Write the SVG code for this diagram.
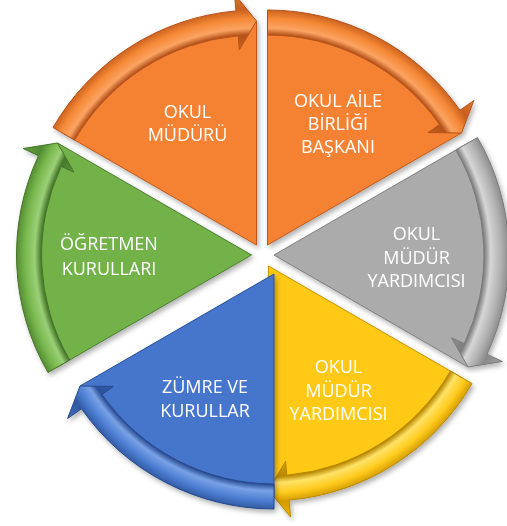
<svg xmlns="http://www.w3.org/2000/svg" width="507" height="526" viewBox="0 0 507 526">
<defs>
<filter id="sh" x="-10%" y="-10%" width="130%" height="130%">
<feDropShadow dx="2" dy="3" stdDeviation="2.5" flood-color="#000" flood-opacity="0.3"/>
</filter>
<radialGradient id="g1" gradientUnits="userSpaceOnUse" cx="256.5" cy="245" r="252">
<stop offset="0.78" stop-color="#C9601F"/><stop offset="0.835" stop-color="#B5521A"/><stop offset="0.86" stop-color="#FBA463"/><stop offset="0.9" stop-color="#F58835"/><stop offset="0.935" stop-color="#C9601F"/><stop offset="1" stop-color="#E0722A"/>
</radialGradient>
<radialGradient id="g2" gradientUnits="userSpaceOnUse" cx="267.5" cy="245" r="252">
<stop offset="0.78" stop-color="#C9601F"/><stop offset="0.835" stop-color="#B5521A"/><stop offset="0.86" stop-color="#FBA463"/><stop offset="0.9" stop-color="#F58835"/><stop offset="0.935" stop-color="#C9601F"/><stop offset="1" stop-color="#E0722A"/>
</radialGradient>
<radialGradient id="g3" gradientUnits="userSpaceOnUse" cx="274" cy="255" r="252">
<stop offset="0.78" stop-color="#8E8E8E"/><stop offset="0.835" stop-color="#7E7E7E"/><stop offset="0.86" stop-color="#D6D6D6"/><stop offset="0.9" stop-color="#B2B2B2"/><stop offset="0.935" stop-color="#8A8A8A"/><stop offset="1" stop-color="#A0A0A0"/>
</radialGradient>
<radialGradient id="g4" gradientUnits="userSpaceOnUse" cx="268.5" cy="266" r="252">
<stop offset="0.78" stop-color="#D9A000"/><stop offset="0.835" stop-color="#B88800"/><stop offset="0.86" stop-color="#FFE266"/><stop offset="0.9" stop-color="#FFCB1E"/><stop offset="0.935" stop-color="#D49C00"/><stop offset="1" stop-color="#F0B800"/>
</radialGradient>
<radialGradient id="g5" gradientUnits="userSpaceOnUse" cx="274" cy="274" r="252">
<stop offset="0.78" stop-color="#3461B0"/><stop offset="0.835" stop-color="#2A4F96"/><stop offset="0.86" stop-color="#79A2E6"/><stop offset="0.9" stop-color="#4C7DD2"/><stop offset="0.935" stop-color="#30599F"/><stop offset="1" stop-color="#3F6CBC"/>
</radialGradient>
<radialGradient id="g6" gradientUnits="userSpaceOnUse" cx="251.5" cy="255" r="252">
<stop offset="0.78" stop-color="#5A9136"/><stop offset="0.835" stop-color="#46782A"/><stop offset="0.86" stop-color="#9CD077"/><stop offset="0.9" stop-color="#76B74C"/><stop offset="0.935" stop-color="#538A32"/><stop offset="1" stop-color="#66A040"/>
</radialGradient>
</defs>
<style>
.lbl{font-family:"Open Sans","Noto Sans","Liberation Sans",sans-serif;font-size:18px;fill:#FFFFFF;text-anchor:middle}
.seg{filter:url(#sh)}
.or .pie{fill:#F58232;stroke:#C0581A;stroke-width:1}
.gr .pie{fill:#ABABAB;stroke:#7E7E7E;stroke-width:1}
.ye .pie{fill:#FFC919;stroke:#C89400;stroke-width:1}
.bl .pie{fill:#4576CC;stroke:#2A4F96;stroke-width:1}
.gn .pie{fill:#72B24A;stroke:#4A7F2C;stroke-width:1}
.or .band{stroke:#B5521A;stroke-width:1}
.gr .band{stroke:#7A7A7A;stroke-width:1}
.ye .band{stroke:#B88800;stroke-width:1}
.bl .band{stroke:#27498C;stroke-width:1}
.gn .band{stroke:#457328;stroke-width:1}
</style>
<rect width="507" height="526" fill="#FFFFFF"/>

<g id="node-okul-muduru" class="seg or">
<path class="pie" d="M256.5,245 L62.5,133 A224,224 0 0 1 256.5,21 Z"/>
<path class="band" fill="url(#g1)" d="M53,127.5 A235,235 0 0 1 236,10.9 L234.5,-6 L256.5,21 L239.4,49.7 L238.2,35.8 A210,210 0 0 0 74.6,140 Z"/>
<text class="lbl" x="187.5" y="118">OKUL</text>
<text class="lbl" x="187.5" y="141">MÜDÜRÜ</text>
</g>

<g id="node-okul-aile-birligi-baskani" class="seg or">
<path class="pie" d="M267.5,245 L267.5,21 A224,224 0 0 1 461.5,133 Z"/>
<path class="band" fill="url(#g2)" d="M267.5,10 A235,235 0 0 1 460,110.2 L473.9,100.5 L461.5,133 L428.1,132.6 L439.5,124.5 A210,210 0 0 0 267.5,35 Z"/>
<text class="lbl" x="338" y="107">OKUL AİLE</text>
<text class="lbl" x="338" y="130">BİRLİĞİ</text>
<text class="lbl" x="338" y="153">BAŞKANI</text>
</g>

<g id="node-okul-mudur-yardimcisi-1" class="seg gr">
<path class="pie" d="M274,255 L468,143 A224,224 0 0 1 468,367 Z"/>
<path class="band" fill="url(#g3)" d="M477.5,137.5 A235,235 0 0 1 487,354.3 L502.4,361.5 L468,367 L451.6,337.8 L464.3,343.7 A210,210 0 0 0 455.9,150 Z"/>
<text class="lbl" x="416.5" y="240">OKUL</text>
<text class="lbl" x="416.5" y="263.5">MÜDÜR</text>
<text class="lbl" x="416.5" y="287">YARDIMCISI</text>
</g>

<g id="node-okul-mudur-yardimcisi-2" class="seg ye">
<path class="pie" d="M268.5,266 L462.5,378 A224,224 0 0 1 268.5,490 Z"/>
<path class="band" fill="url(#g4)" d="M472,383.5 A235,235 0 0 1 289,500.1 L290.5,517 L268.5,490 L285.6,461.3 L286.8,475.2 A210,210 0 0 0 450.4,371 Z"/>
<text class="lbl" x="338.5" y="373">OKUL</text>
<text class="lbl" x="338.5" y="396.5">MÜDÜR</text>
<text class="lbl" x="338.5" y="420">YARDIMCISI</text>
</g>

<g id="node-zumre-ve-kurullar" class="seg bl">
<path class="pie" d="M274,274 L274,498 A224,224 0 0 1 80,386 Z"/>
<path class="band" fill="url(#g5)" d="M274,509 A235,235 0 0 1 81.5,408.8 L67.6,418.5 L80,386 L113.4,386.4 L102,394.5 A210,210 0 0 0 274,484 Z"/>
<text class="lbl" x="205" y="393">ZÜMRE VE</text>
<text class="lbl" x="205" y="417">KURULLAR</text>
</g>

<g id="node-ogretmen-kurullari" class="seg gn">
<path class="pie" d="M251.5,255 L57.5,367 A224,224 0 0 1 57.5,143 Z"/>
<path class="band" fill="url(#g6)" d="M48,372.5 A235,235 0 0 1 38.5,155.7 L23.1,148.5 L57.5,143 L73.9,172.2 L61.2,166.3 A210,210 0 0 0 69.6,360 Z"/>
<text class="lbl" x="109" y="250">ÖĞRETMEN</text>
<text class="lbl" x="109" y="274.5">KURULLARI</text>
</g>
</svg>
